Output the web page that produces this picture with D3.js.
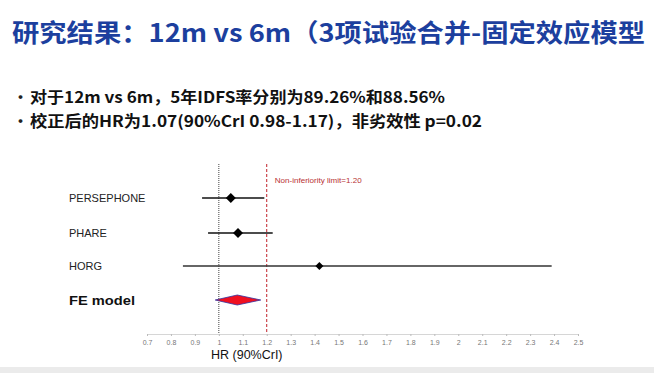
<!DOCTYPE html>
<html><head><meta charset="utf-8">
<script src="https://cdn.jsdelivr.net/npm/d3@7"></script>
<style>body{margin:0;background:#fff}svg{display:block}</style>
</head><body>
<svg id="c" width="654" height="373"></svg>
<script>
const titleText = "研究结果：12m vs 6m（3项试验合并-固定效应模型";
const bullets = ["对于12m vs 6m，5年IDFS率分别为89.26%和88.56%", "校正后的HR为1.07(90%CrI 0.98-1.17)，非劣效性 p=0.02"];
const studies = ["PERSEPHONE", "PHARE", "HORG"];
const hr = [1.05, 1.08, 1.42];
const lower = [0.93, 0.955, 0.85];
const upper = [1.19, 1.225, 2.39];
const pooled = {label: "FE model", hr: 1.077, lower: 0.985, upper: 1.175};
const ticks = [0.7,0.8,0.9,1,1.1,1.2,1.3,1.4,1.5,1.6,1.7,1.8,1.9,2,2.1,2.2,2.3,2.4,2.5];
const nonInf = 1.2;

const svg = d3.select("#c");
const cjk = "'Noto Sans CJK SC', 'Noto Sans', sans-serif";
svg.append("rect").attr("x",0).attr("y",367).attr("width",654).attr("height",6).attr("fill","#ebebeb");

svg.append("text").attr("x",12).attr("y",42).attr("font-family",cjk).attr("font-weight","bold")
  .attr("font-size",25).attr("fill","#1c3f9e").attr("textLength",633).attr("lengthAdjust","spacingAndGlyphs").text(titleText);

const bulletLens = [415, 452];
bullets.forEach((b,i)=>{
  const y = 103 + i*24;
  svg.append("text").attr("x",13).attr("y",y).attr("font-family",cjk).attr("font-weight","bold").attr("font-size",15).attr("fill","#222").text("·");
  svg.append("text").attr("x",30).attr("y",y).attr("font-family",cjk).attr("font-weight","bold")
    .attr("font-size",15.5).attr("fill","#111").attr("textLength",bulletLens[i]).attr("lengthAdjust","spacingAndGlyphs").text(b);
});

const x = d3.scaleLinear().domain([0.7,2.5]).range([147,578]);
const yPos = {PERSEPHONE:198, PHARE:233, HORG:266, "FE model":300};

const ax = svg.append("g").attr("transform","translate(0,334)")
  .call(d3.axisBottom(x).tickValues(ticks).tickSize(2).tickPadding(4).tickFormat(d3.format("")));
ax.select(".domain").attr("stroke","#ccc").attr("stroke-width",0.8);
ax.selectAll(".tick line").attr("stroke","#bbb");
ax.selectAll(".tick text").attr("font-family","Liberation Sans, Arial").attr("font-size",7).attr("fill","#777");

svg.append("text").attr("x",211).attr("y",359).attr("font-family","Liberation Sans, Arial").attr("font-size",12.5).attr("fill","#111").text("HR (90%CrI)");

svg.append("line").attr("x1",x(1)).attr("x2",x(1)).attr("y1",164).attr("y2",334)
  .attr("stroke","#444").attr("stroke-width",1).attr("stroke-dasharray","1,1");
svg.append("line").attr("x1",x(nonInf)).attr("x2",x(nonInf)).attr("y1",164).attr("y2",334)
  .attr("stroke","#c0202a").attr("stroke-width",1).attr("stroke-dasharray","3,2");
svg.append("text").attr("x",x(nonInf)+8).attr("y",183).attr("font-family","Liberation Sans, Arial").attr("font-size",7.5)
  .attr("fill","#b83232").attr("textLength",87).attr("lengthAdjust","spacingAndGlyphs").text("Non-inferiority limit=1.20");

studies.forEach((s,i)=>{
  const yy = yPos[s];
  svg.append("text").attr("x",69).attr("y",yy+4).attr("font-family","Liberation Sans, Arial").attr("font-size",11).attr("fill","#222").text(s);
  svg.append("line").attr("x1",x(lower[i])).attr("x2",x(upper[i])).attr("y1",yy).attr("y2",yy)
    .attr("stroke", i===2 ? "#333" : "#111").attr("stroke-width", i===2 ? 1.3 : 1.6);
  const s2 = i===2 ? 4 : 5;
  const cx = x(hr[i]);
  svg.append("path").attr("d",`M${cx-s2},${yy}L${cx},${yy-s2}L${cx+s2},${yy}L${cx},${yy+s2}Z`).attr("fill","#000");
});

const py = yPos[pooled.label];
svg.append("text").attr("x",69).attr("y",py+4.5).attr("font-family","Liberation Sans, Arial").attr("font-weight","bold")
  .attr("font-size",13).attr("fill","#111").attr("textLength",66).attr("lengthAdjust","spacingAndGlyphs").text(pooled.label);
svg.append("path").attr("d",`M${x(pooled.lower)},${py}L${x(pooled.hr)},${py-5}L${x(pooled.upper)},${py}L${x(pooled.hr)},${py+5}Z`)
  .attr("fill","#f01020").attr("stroke","#3030a0").attr("stroke-width",0.8);
</script>
</body></html>
